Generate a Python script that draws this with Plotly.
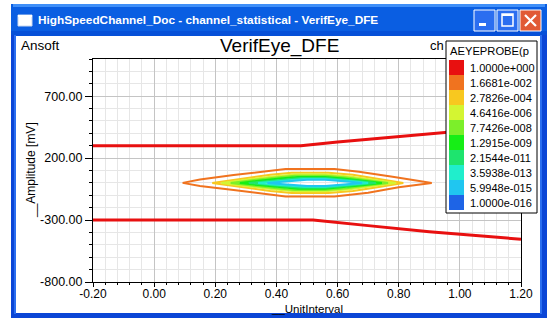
import plotly.graph_objects as go

# ---- figure geometry (pixels) ----
W, H = 559, 324
ML, MR, MT, MB = 93, 38, 59, 42
PW = W - ML - MR
PH = H - MT - MB


def px(x):
    return (x - ML) / PW


def py(y):
    return (H - MB - y) / PH


# ---- data ----
# Eye envelope (probability 1.0 contour): upper and lower bounds
env_upper_ui = [-0.2, 0.48, 0.60, 0.80, 0.94, 1.2]
env_upper_mv = [300, 300, 330, 373, 405, 460]
env_lower_ui = [-0.2, 0.52, 0.70, 0.90, 1.2]
env_lower_mv = [-300, -300, -345, -395, -455]

# Probability levels shown in the colour key
levels = ["1.0000e+000", "1.6681e-002", "2.7826e-004", "4.6416e-006",
          "7.7426e-008", "1.2915e-009", "2.1544e-011", "3.5938e-013",
          "5.9948e-015", "1.0000e-016"]
level_colors = ["#e81010", "#f0731f", "#f8c81f", "#d4f532", "#7cef2a",
                "#16ee16", "#1ee46e", "#20eecc", "#20c6f0", "#1e64e6"]

# Closed eye contours (UI, mV), outer to inner
eye_orange_ui = [0.093, 0.15, 0.26, 0.35, 0.43, 0.59, 0.67, 0.78, 0.908, 0.80, 0.70, 0.59, 0.43, 0.26, 0.15, 0.093]
eye_orange_mv = [0, 28, 63, 90, 112, 112, 90, 50, 0, -36, -79, -110, -110, -58, -25, 0]
eye_gold_ui = [0.19, 0.28, 0.38, 0.45, 0.57, 0.65, 0.73, 0.815, 0.73, 0.65, 0.57, 0.45, 0.38, 0.28, 0.19]
eye_gold_mv = [0, 32, 65, 82, 82, 65, 35, 0, -35, -65, -82, -82, -65, -32, 0]
eye_yellow_ui = [0.22, 0.30, 0.39, 0.46, 0.56, 0.64, 0.71, 0.79, 0.71, 0.64, 0.56, 0.46, 0.39, 0.30, 0.22]
eye_yellow_mv = [0, 25, 52, 68, 68, 52, 28, 0, -28, -52, -68, -68, -52, -25, 0]
eye_lime_ui = [0.25, 0.32, 0.40, 0.46, 0.56, 0.63, 0.69, 0.765, 0.69, 0.63, 0.56, 0.46, 0.40, 0.32, 0.25]
eye_lime_mv = [0, 22, 44, 57, 57, 44, 24, 0, -24, -44, -57, -57, -44, -22, 0]
eye_green_ui = [0.28, 0.34, 0.41, 0.47, 0.56, 0.62, 0.68, 0.745, 0.68, 0.62, 0.56, 0.47, 0.41, 0.34, 0.28]
eye_green_mv = [0, 18, 36, 47, 47, 36, 20, 0, -20, -36, -47, -47, -36, -18, 0]
eye_teal_ui = [0.31, 0.37, 0.43, 0.48, 0.56, 0.61, 0.67, 0.725, 0.67, 0.61, 0.56, 0.48, 0.43, 0.37, 0.31]
eye_teal_mv = [0, 15, 30, 39, 39, 30, 16, 0, -16, -30, -39, -39, -30, -15, 0]
eye_aqua_ui = [0.34, 0.39, 0.44, 0.49, 0.56, 0.61, 0.65, 0.70, 0.65, 0.61, 0.56, 0.49, 0.44, 0.39, 0.34]
eye_aqua_mv = [0, 12, 24, 32, 32, 24, 13, 0, -13, -24, -32, -32, -24, -12, 0]
eye_sky_ui = [0.37, 0.41, 0.46, 0.50, 0.56, 0.60, 0.64, 0.68, 0.64, 0.60, 0.56, 0.50, 0.46, 0.41, 0.37]
eye_sky_mv = [0, 9, 19, 25, 25, 19, 10, 0, -10, -19, -25, -25, -19, -9, 0]

eye_contours = [
    (eye_orange_ui, eye_orange_mv, level_colors[1]),
    (eye_gold_ui, eye_gold_mv, level_colors[2]),
    (eye_yellow_ui, eye_yellow_mv, level_colors[3]),
    (eye_lime_ui, eye_lime_mv, level_colors[4]),
    (eye_green_ui, eye_green_mv, level_colors[5]),
    (eye_teal_ui, eye_teal_mv, level_colors[6]),
    (eye_aqua_ui, eye_aqua_mv, level_colors[7]),
    (eye_sky_ui, eye_sky_mv, level_colors[8]),
]

x_ticks = [-0.2, 0.0, 0.2, 0.4, 0.6, 0.8, 1.0, 1.2]
x_ticklabels = ["-0.20", "0.00", "0.20", "0.40", "0.60", "0.80", "1.00", "1.20"]
y_ticks = [-800, -300, 200, 700]
y_ticklabels = ["-800.00", "-300.00", "200.00", "700.00"]

FONT = "Liberation Sans, Arial, sans-serif"

fig = go.Figure()

for ui, mv, col in eye_contours:
    fig.add_trace(go.Scatter(x=ui, y=mv, mode="lines",
                             line=dict(color=col, width=2),
                             hoverinfo="skip", showlegend=False))

fig.add_trace(go.Scatter(x=env_upper_ui, y=env_upper_mv, mode="lines",
                         line=dict(color=level_colors[0], width=3),
                         hoverinfo="skip", showlegend=False))
fig.add_trace(go.Scatter(x=env_lower_ui, y=env_lower_mv, mode="lines",
                         line=dict(color=level_colors[0], width=3),
                         hoverinfo="skip", showlegend=False))

shapes = []


def rect(x0, y0, x1, y1, fill, line=None, lw=0, layer="above"):
    shapes.append(dict(type="rect", xref="paper", yref="paper",
                       x0=px(x0), x1=px(x1), y0=py(y1), y1=py(y0),
                       fillcolor=fill, layer=layer,
                       line=dict(color=line or fill, width=lw)))


def seg(x0, y0, x1, y1, col, w):
    shapes.append(dict(type="line", xref="paper", yref="paper",
                       x0=px(x0), x1=px(x1), y0=py(y0), y1=py(y1),
                       line=dict(color=col, width=w), layer="above"))


# window frame
rect(11, 4, 547, 36, "#0a5ee2")
rect(13, 4, 545, 7, "#3f8ff8")
rect(11, 31, 547, 36, "#0650d8")
rect(11, 35, 16, 318, "#0b46d6")
rect(540, 35, 547, 318, "#0b46d6")
rect(11, 313, 547, 318, "#0b46d6")
rect(14, 35, 16, 314, "#2a6ef0")
rect(540, 35, 542, 314, "#2a6ef0")

# window icon
rect(18, 15, 32, 26, "#ffffff", "#c8d8f0", 1)
rect(18, 15, 32, 17, "#ffffff")

# caption buttons
rect(474, 10, 495, 31, "#2b6ef0", "#ffffff", 1)
rect(479, 23, 486, 26, "#ffffff")
rect(497, 10, 518, 31, "#2b6ef0", "#ffffff", 1)
rect(502, 14, 513, 26, "rgba(0,0,0,0)", "#ffffff", 1.5)
rect(502, 14, 513, 16, "#ffffff")
rect(520, 10, 541, 31, "#e15a35", "#ffffff", 1)
seg(525, 15, 536, 26, "#ffffff", 2.2)
seg(525, 26, 536, 15, "#ffffff", 2.2)

# colour key box
rect(446, 41, 537, 213, "#ffffff", "#000000", 1)
for i, col in enumerate(level_colors):
    rect(449, 60 + 15 * i, 464, 75 + 15 * i, col)

fig.update_layout(shapes=shapes)

ann = []


def text(x, y, s, size, xanchor="left", color="#000000", angle=0, bold=False):
    if bold:
        s = "<b>" + s + "</b>"
    ann.append(dict(x=px(x), y=py(y), xref="paper", yref="paper", text=s,
                    showarrow=False, xanchor=xanchor, yanchor="middle",
                    textangle=angle,
                    font=dict(family=FONT, size=size, color=color)))


text(36, 20, "HighSpeedChannel_Doc - channel_statistical - VerifEye_DFE", 11.8,
     color="#ffffff", bold=True)
text(19, 45, "Ansoft", 13.5)
text(279, 46, "VerifEye_DFE", 19, xanchor="center")
text(428, 45, "ch", 13)
text(31, 170, "__Amplitude [mV]", 12, xanchor="center", angle=-90)
text(307, 309, "__UnitInterval", 11.5, xanchor="center")
text(448, 51, "AEYEPROBE(p", 11.2)
for i, lab in enumerate(levels):
    text(468, 67.5 + 15 * i, lab, 11)

fig.update_layout(annotations=ann)

fig.update_layout(
    width=W, height=H,
    margin=dict(l=ML, r=MR, t=MT, b=MB, pad=0),
    paper_bgcolor="#ffffff", plot_bgcolor="#ffffff",
    showlegend=False,
    font=dict(family=FONT, size=12, color="#000000"),
    xaxis=dict(range=[-0.2, 1.2], tickmode="array", tickvals=x_ticks,
               ticktext=x_ticklabels, ticks="outside", ticklen=4,
               ticklabelstandoff=-3,
               tickcolor="#000000", showline=True, linecolor="#000000",
               linewidth=1, mirror=True, zeroline=False,
               showgrid=True, gridcolor="#c4c4c4", gridwidth=1,
               tickfont=dict(family=FONT, size=12, color="#000000"),
               minor=dict(tick0=-0.2, dtick=0.04, ticks="outside", ticklen=2,
                          tickcolor="#000000", showgrid=True,
                          gridcolor="#e6e6e6", gridwidth=1)),
    yaxis=dict(range=[-800, 1000], tickmode="array", tickvals=y_ticks,
               ticktext=y_ticklabels, ticks="outside", ticklen=7,
               tickcolor="#000000", showline=True, linecolor="#000000",
               linewidth=1, mirror=True, zeroline=False,
               showgrid=True, gridcolor="#c4c4c4", gridwidth=1,
               tickfont=dict(family=FONT, size=12.5, color="#000000"),
               minor=dict(tick0=-800, dtick=100, ticks="outside", ticklen=3,
                          tickcolor="#000000", showgrid=True,
                          gridcolor="#e6e6e6", gridwidth=1)),
)

fig.write_html("out.html")
